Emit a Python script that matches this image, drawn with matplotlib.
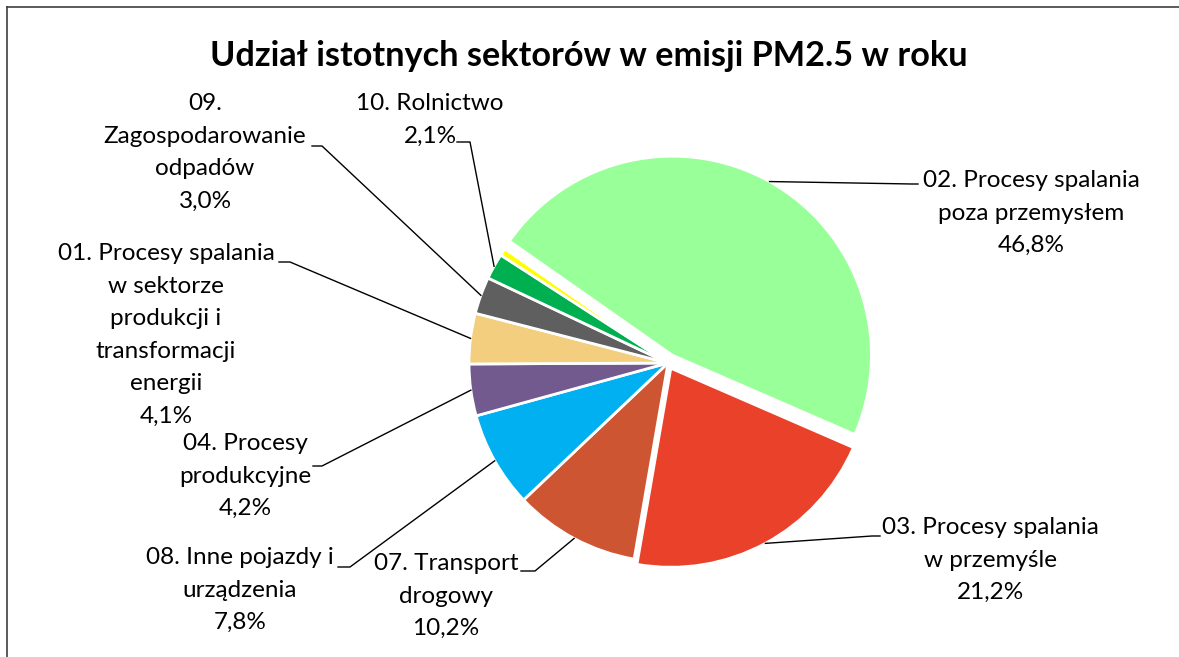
import numpy as np
import matplotlib.pyplot as plt

# data (clockwise from the exploded slice)
sectors = [
    "02. Procesy spalania\npoza przemysłem",
    "03. Procesy spalania\nw przemyśle",
    "07. Transport\ndrogowy",
    "08. Inne pojazdy i\nurządzenia",
    "04. Procesy\nprodukcyjne",
    "01. Procesy spalania\nw sektorze\nprodukcji i\ntransformacji\nenergii",
    "09.\nZagospodarowanie\nodpadów",
    "10. Rolnictwo",
    "",
]
shares = [46.8, 21.2, 10.2, 7.8, 4.2, 4.1, 3.0, 2.1, 0.6]
colors = ["#99FF99", "#E9412A", "#CD5532", "#00B0F0", "#725A8E",
          "#F3CE7E", "#5F5F5F", "#00B050", "#FFFF00"]
explode = [0.045, 0.03, 0, 0, 0, 0, 0, 0, 0]

title = "Udział istotnych sektorów w emisji PM2.5 w roku"

# layout in pixels of the 1179x657 picture
W, H = 1179, 657
CX, CY, R = 668, 363, 199
# label centre (x, first line y) and leader elbow / stub end
label_pos = [(1031, 180), (990, 527), (446, 563), (240, 557), (245, 443),
             (166, 253), (205, 103), (430, 103), None]
elbows = [((912, 184), (918, 184)), ((872, 536), (880, 536)),
          ((535, 571), (521, 571)), ((350, 567), (338, 567)),
          ((322, 466), (313, 466)), ((290, 262), (279, 262)),
          ((322, 146), (312, 146)), ((470, 142), (457, 142)), None]


def P(px, py):
    return (px - CX) / R, (CY - py) / R


font = "Lato"
fig = plt.figure(figsize=(W / 100, H / 100), dpi=100)
ax = fig.add_axes([0, 0, 1, 1])

wedges, _ = ax.pie(shares, colors=colors, explode=explode, startangle=145,
                   counterclock=False, radius=1,
                   wedgeprops=dict(edgecolor="white", linewidth=2))
ax.set_xlim(-CX / R, (W - CX) / R)
ax.set_ylim(-(H - CY) / R, CY / R)
ax.set_aspect("equal")
ax.axis("off")

for w, name, v, lp, el in zip(wedges, sectors, shares, label_pos, elbows):
    if lp is None:
        continue
    pct = f"{v:.1f}".replace(".", ",") + "%"
    txt = name + "\n" + pct
    x, y = P(lp[0], lp[1] - 10)
    ax.text(x, y, txt, ha="center", va="top", fontsize=17.5,
            family=font, color="#000000", linespacing=1.68)
    mid = np.deg2rad((w.theta1 + w.theta2) / 2)
    cx, cy = w.center
    ex, ey = cx + w.r * np.cos(mid), cy + w.r * np.sin(mid)
    (ax1, ay1), (ax2, ay2) = P(*el[0]), P(*el[1])
    ax.plot([ex, ax1, ax2], [ey, ay1, ay2], color="black", lw=1)

tx, ty = P(589, 56)
ax.text(tx, ty, title, ha="center", va="center", fontsize=24.7,
        fontweight="bold", family=font)

# chart frame (only top and left edges visible)
fig.add_artist(plt.Line2D([7 / W, 7 / W], [0, 1 - 7 / H], color="#404040", lw=1.2))
fig.add_artist(plt.Line2D([7 / W, 1], [1 - 7 / H, 1 - 7 / H], color="#404040", lw=1.2))

fig.savefig("out.png", dpi=100)
